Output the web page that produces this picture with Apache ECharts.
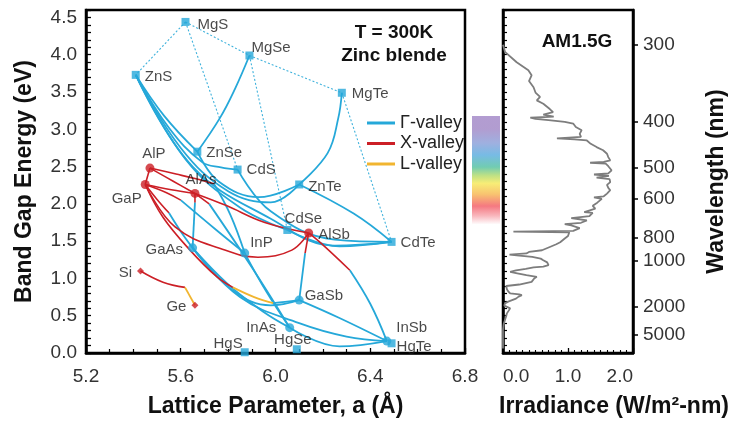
<!DOCTYPE html>
<html>
<head>
<meta charset="utf-8">
<script src="https://cdn.jsdelivr.net/npm/echarts@6/dist/echarts.min.js"></script>
<style>
  html, body { margin: 0; padding: 0; background: #fff; }
  #chart { width: 738px; height: 424px; }
</style>
</head>
<body>
<div id="chart"></div>
<script>
// Binary semiconductors (zinc blende, 300 K): lattice parameter in Å, band gap in eV
const compoundNames = ['MgS', 'MgSe', 'ZnS', 'MgTe', 'ZnSe', 'CdS', 'ZnTe', 'AlP', 'GaP', 'AlAs', 'CdSe', 'AlSb',
                       'CdTe', 'GaAs', 'InP', 'Si', 'Ge', 'GaSb', 'InAs', 'InSb', 'HgTe', 'HgS', 'HgSe'];
const latticeA = [5.62, 5.89, 5.41, 6.28, 5.67, 5.84, 6.10, 5.47, 5.45, 5.66, 6.05, 6.14,
                  6.49, 5.65, 5.87, 5.43, 5.66, 6.10, 6.06, 6.47, 6.49, 5.87, 6.09];
const bandGap = [4.44, 3.99, 3.73, 3.49, 2.70, 2.46, 2.26, 2.48, 2.26, 2.14, 1.65, 1.61,
                 1.49, 1.41, 1.34, 1.10, 0.64, 0.71, 0.34, 0.16, 0.13, 0.01, 0.05];
// marker family: II-VI (square), III-V direct (circle), III-V indirect (red circle), group IV (red diamond)
const compoundFamily = ['II-VI', 'II-VI', 'II-VI', 'II-VI', 'II-VI', 'II-VI', 'II-VI', 'indirect', 'indirect', 'indirect', 'II-VI', 'indirect',
                        'II-VI', 'III-V', 'III-V', 'IV', 'IV', 'III-V', 'III-V', 'III-V', 'II-VI', 'II-VI', 'II-VI'];

// Alloy curves; a string refers to a binary endpoint above, pairs are [a, Eg] along the curve
const gammaCurves = [
  ['ZnS', [5.53, 3.18], 'ZnSe'],
  ['ZnS', [5.55, 3.02], [5.69, 2.56], [5.77, 2.49], 'CdS'],
  ['ZnS', [5.60, 2.75], [5.80, 2.17], [5.98, 2.02], 'ZnTe'],
  ['ZnSe', [5.76, 2.30], [5.93, 2.09], 'ZnTe'],
  ['ZnS', [5.62, 2.60], [5.85, 1.95], 'CdSe'],
  ['ZnS', [5.65, 2.50], [5.98, 1.80], [6.25, 1.44], 'CdTe'],
  ['CdS', [5.98, 1.90], [6.25, 1.52], 'CdTe'],
  ['CdSe', [6.27, 1.43], 'CdTe'],
  ['ZnTe', [6.33, 1.87], 'CdTe'],
  ['MgSe', [5.83, 3.55], [5.765, 3.15], 'ZnSe'],
  ['MgTe', [6.265, 3.15], [6.22, 2.68], 'ZnTe'],
  [[5.74, 2.27], [5.81, 1.85], 'InP'],
  [[5.60, 2.05], [5.75, 1.65], 'InP'],
  [[5.66, 2.02], 'GaAs'],
  [[5.55, 1.88], [5.60, 1.63], 'GaAs'],
  [[5.72, 2.00], [5.90, 1.15], 'InAs'],
  ['InP', [5.96, 0.83], 'InAs'],
  ['GaAs', [5.80, 0.92], [5.95, 0.55], 'InAs'],
  ['GaAs', [5.82, 0.84], [5.98, 0.64], 'GaSb'],
  ['GaAs', [5.85, 0.75], [6.10, 0.40], [6.30, 0.22], 'InSb'],
  [[6.125, 1.34], 'GaSb'],
  [[6.314, 1.11], [6.40, 0.66], 'InSb'],
  ['GaSb', [6.27, 0.47], 'InSb'],
  ['InAs', [6.27, 0.09], 'InSb'],
  [[5.99, 0.67], [6.04, 0.685], 'GaSb']
];
const xValleyCurves = [
  ['AlP', 'GaP'],
  ['AlP', [5.57, 2.30], 'AlAs'],
  ['GaP', [5.56, 2.19], 'AlAs'],
  ['AlAs', [5.79, 1.98], [5.955, 1.75], 'AlSb'],
  ['GaP', [5.576, 1.69], [5.786, 1.38], [5.926, 1.285], [6.069, 1.38], 'AlSb'],
  ['AlP', [5.58, 2.40], [5.66, 2.34], [5.74, 2.27]],
  ['GaP', [5.54, 2.15], [5.60, 2.05]],
  ['AlAs', [5.66, 2.02]],
  ['GaP', [5.50, 2.06], [5.55, 1.88]],
  ['AlAs', [5.72, 2.00]],
  ['GaP', [5.525, 1.82], [5.639, 1.38], [5.753, 1.02], [5.82, 0.88]],
  ['AlSb', [6.125, 1.34]],
  ['AlSb', [6.20, 1.45], [6.314, 1.11]],
  ['Si', [5.525, 0.95], [5.618, 0.88]]
];
const lValleyCurves = [
  [[5.82, 0.88], [5.91, 0.75], [5.99, 0.67]],
  [[5.618, 0.88], 'Ge']
];
// Mg-chalcogenide tie lines (dotted)
const mgTieLines = [['MgS', 'ZnS'], ['MgS', 'MgSe'], ['MgS', 'CdS'], ['MgSe', 'MgTe'], ['MgSe', 'CdSe'], ['MgTe', 'CdTe']];

// AM1.5G solar spectrum: [wavelength nm, irradiance W/m^2-nm]
const spectrumPoints = [
  [300, 0], [307, 0.03], [318, 0.21], [327, 0.39], [333, 0.44], [340, 0.40], [348, 0.47], [355, 0.50],
  [361, 0.57], [366, 0.52], [371, 0.62], [379, 0.72], [384, 0.77], [388, 0.62], [391, 0.78], [393, 0.42],
  [395, 0.50], [397, 0.70], [400, 0.95], [403, 1.08], [409, 1.12], [415, 1.21], [422, 1.18], [428, 1.20],
  [431, 0.83], [433, 1.10], [435, 1.29], [442, 1.35], [449, 1.44], [456, 1.54], [464, 1.60], [472, 1.62],
  [480, 1.65], [484, 1.55], [486, 1.34], [488, 1.58], [495, 1.62], [506, 1.67], [515, 1.62], [518, 1.40],
  [522, 1.63], [527, 1.44], [532, 1.64], [541, 1.65], [550, 1.60], [560, 1.62], [568, 1.65], [580, 1.60],
  [590, 1.55], [594, 1.40], [600, 1.52], [605, 1.49], [615, 1.45], [628, 1.38], [640, 1.42], [648, 1.39],
  [656, 1.25], [660, 1.38], [675, 1.33], [686, 1.05], [690, 1.15], [697, 1.29], [710, 1.20], [718, 0.95],
  [725, 1.05], [740, 1.18], [757, 1.08], [762, 0.16], [766, 1.02], [774, 1.03], [790, 1.00], [808, 0.95],
  [821, 0.93], [835, 0.88], [850, 0.82], [872, 0.72], [900, 0.60], [915, 0.40], [929, 0.36], [940, 0.10],
  [950, 0.25], [962, 0.45], [980, 0.58], [996, 0.62], [1020, 0.68], [1051, 0.70], [1070, 0.62], [1081, 0.47],
  [1100, 0.35], [1120, 0.20], [1140, 0.11], [1160, 0.22], [1188, 0.36], [1214, 0.52], [1240, 0.48], [1270, 0.45],
  [1300, 0.44], [1329, 0.42], [1350, 0.25], [1380, 0.05], [1397, 0.06], [1420, 0.02], [1450, 0.06], [1500, 0.08],
  [1551, 0.11], [1580, 0.25], [1597, 0.29], [1640, 0.24], [1700, 0.20], [1748, 0.18], [1800, 0.08], [1864, 0.03],
  [1950, 0.02], [2072, 0.11], [2150, 0.09], [2333, 0.06], [2500, 0.05], [2806, 0.03], [3200, 0.01], [4000, 0],
  [8000, 0], [20000, 0]
];
const wavelengthTicks = [300, 400, 500, 600, 800, 1000, 2000, 5000];
const visibleBand = [390, 720]; // nm
const HC = 1240; // eV·nm, photon energy <-> wavelength

// ---- styling / layout ----
const FONT = '"Liberation Sans", Arial, Helvetica, sans-serif';
const BLUE = '#25a8d9';
const RED = '#cc1f26';
const GOLD = '#f1b530';
const labelLayout = {
  MgS: ['right', [3, 3]], MgSe: ['right', [-7, -8]], ZnS: ['right', [0, 2]], MgTe: ['right', [1, 1]],
  ZnSe: ['right', [0, 1]], CdS: ['right', [0, 0]], ZnTe: ['right', [0, 2]], AlP: ['top', [4, 3]],
  GaP: ['left', [6, 14]], AlAs: ['top', [6, 3]], CdSe: ['top', [16, 5]], AlSb: ['right', [0, 2]],
  CdTe: ['right', [0, 1]], GaAs: ['left', [0, 2]], InP: ['right', [-4, -10]], Si: ['left', [0, 2]],
  Ge: ['left', [0, 2]], GaSb: ['right', [-4, -4]], InAs: ['left', [-4, 0]], InSb: ['right', [0, -13]],
  HgTe: ['right', [-4, 4]], HgS: ['left', [7, -8]], HgSe: ['top', [-4, 7]]
};
const familyStyle = {
  'II-VI':    { symbol: 'rect', size: 8, color: BLUE },
  'III-V':    { symbol: 'circle', size: 9, color: BLUE },
  'indirect': { symbol: 'circle', size: 9, color: RED },
  'IV':       { symbol: 'diamond', size: 7, color: RED }
};

function resolvePoint(p) {
  if (typeof p === 'string') {
    const i = compoundNames.indexOf(p);
    return [latticeA[i], bandGap[i]];
  }
  return p;
}

const series = [];

// dotted Mg tie lines
mgTieLines.forEach(pair => {
  series.push({
    type: 'line', name: 'Mg tie line', xAxisIndex: 0, yAxisIndex: 0,
    data: pair.map(resolvePoint), symbol: 'none', silent: true, z: 1,
    lineStyle: { color: '#3fb2dc', width: 1.1, type: [2, 2] }
  });
});

function addCurves(list, name, color, width, z) {
  list.forEach(curve => {
    series.push({
      type: 'line', name, xAxisIndex: 0, yAxisIndex: 0,
      data: curve.map(resolvePoint), smooth: 0.4, symbol: 'none', silent: true, z,
      lineStyle: { color, width }, itemStyle: { color }
    });
  });
}
addCurves(gammaCurves, 'Γ-valley', BLUE, 1.8, 2);
addCurves(xValleyCurves, 'X-valley', RED, 1.6, 3);
addCurves(lValleyCurves, 'L-valley', GOLD, 1.8, 3);

// compound markers with labels
Object.keys(familyStyle).forEach(fam => {
  const st = familyStyle[fam];
  const data = [];
  compoundNames.forEach((n, i) => {
    if (compoundFamily[i] !== fam) return;
    const lay = labelLayout[n];
    data.push({ name: n, value: [latticeA[i], bandGap[i]], label: { position: lay[0], offset: lay[1] } });
  });
  series.push({
    type: 'scatter', xAxisIndex: 0, yAxisIndex: 0, symbol: st.symbol, symbolSize: st.size,
    itemStyle: { color: st.color }, z: 5, silent: true, data,
    label: { show: true, formatter: '{b}', fontSize: 15, fontFamily: FONT, color: '#1a1a1a', distance: 5 }
  });
});

// solar spectrum plotted against photon energy
series.push({
  type: 'line', name: 'AM1.5G', xAxisIndex: 1, yAxisIndex: 1, symbol: 'none', silent: true,
  data: spectrumPoints.map(p => [p[1], HC / p[0]]),
  lineStyle: { color: '#7d7d7d', width: 1.8 }
});

// visible colour band beside the spectrum
series.push({
  type: 'custom', xAxisIndex: 2, yAxisIndex: 3, silent: true, clip: false,
  data: [[HC / visibleBand[0], HC / visibleBand[1]]],
  renderItem: (params, api) => {
    const p0 = api.coord([0, api.value(0)]);
    const p1 = api.coord([1, api.value(1)]);
    return {
      type: 'rect',
      shape: { x: p0[0], y: p0[1], width: p1[0] - p0[0], height: p1[1] - p0[1] },
      style: {
        opacity: 0.85,
        fill: new echarts.graphic.LinearGradient(0, 0, 0, 1, [
          { offset: 0.00, color: '#a58bc9' },
          { offset: 0.12, color: '#a48bc8' },
          { offset: 0.25, color: '#8ea2da' },
          { offset: 0.36, color: '#5fafe0' },
          { offset: 0.47, color: '#58c3a4' },
          { offset: 0.55, color: '#b5dc6e' },
          { offset: 0.62, color: '#f6ea5e' },
          { offset: 0.72, color: '#f7b957' },
          { offset: 0.83, color: '#f3616b' },
          { offset: 0.92, color: '#f8abb2' },
          { offset: 1.00, color: '#ffffff' }
        ])
      }
    };
  }
});

const tickLabel = { fontSize: 19, color: '#333', fontFamily: FONT };
const titleStyle = { fontSize: 23, fontWeight: 'bold', color: '#111', fontFamily: FONT };
const axisLineStyle = { show: true, lineStyle: { color: '#000', width: 2.5 } };
const inTick = { show: true, inside: true, length: 5, lineStyle: { color: '#000', width: 1.3 } };

const option = {
  animation: false,
  backgroundColor: '#fff',
  grid: [
    { left: 86, top: 10, width: 379, height: 343, show: true, borderColor: '#000', borderWidth: 2.5, backgroundColor: 'transparent' },
    { left: 503, top: 10, width: 130, height: 343, show: true, borderColor: '#000', borderWidth: 2.5, backgroundColor: 'transparent' },
    { left: 472, top: 10, width: 28, height: 343 }
  ],
  xAxis: [
    {
      gridIndex: 0, type: 'value', min: 5.2, max: 6.8, interval: 0.4,
      axisLine: axisLineStyle, axisTick: inTick,
      minorTick: { show: true, splitNumber: 4, length: 4, lineStyle: { color: '#000', width: 1.2 } },
      splitLine: { show: false },
      axisLabel: Object.assign({ margin: 14, formatter: v => v.toFixed(1) }, tickLabel),
      name: 'Lattice Parameter, a (Å)', nameLocation: 'middle', nameGap: 42, nameTextStyle: titleStyle
    },
    {
      gridIndex: 1, type: 'value', min: 0, max: 2, interval: 1,
      axisLine: axisLineStyle, axisTick: inTick,
      minorTick: { show: true, splitNumber: 10, length: 3, lineStyle: { color: '#000', width: 1.1 } },
      splitLine: { show: false },
      axisLabel: Object.assign({ margin: 14, formatter: v => v.toFixed(1), alignMinLabel: 'left', alignMaxLabel: 'right' }, tickLabel),
      name: 'Irradiance (W/m²-nm)', nameLocation: 'middle', nameGap: 42,
      nameTextStyle: Object.assign({ padding: [0, 0, 0, 92] }, titleStyle)
    },
    { gridIndex: 2, type: 'value', min: 0, max: 1, show: false }
  ],
  yAxis: [
    {
      gridIndex: 0, type: 'value', min: 0, max: 4.6, interval: 0.1,
      axisLine: axisLineStyle, axisTick: inTick, splitLine: { show: false },
      axisLabel: Object.assign({ margin: 9, formatter: v => (Math.round(v * 10) % 5 === 0 ? v.toFixed(1) : '') }, tickLabel),
      name: 'Band Gap Energy (eV)', nameLocation: 'middle', nameGap: 50, nameRotate: 90, nameTextStyle: titleStyle
    },
    {
      gridIndex: 1, type: 'value', min: 0, max: 4.6, interval: 0.1,
      axisLine: axisLineStyle, axisTick: { show: true, inside: true, length: 4, lineStyle: { color: '#000', width: 1.2 } },
      splitLine: { show: false }, axisLabel: { show: false }
    },
    {
      gridIndex: 1, type: 'value', position: 'right', min: 0, max: 4.6,
      axisLine: axisLineStyle,
      axisTick: { show: true, inside: false, length: 5, customValues: wavelengthTicks.map(l => HC / l), lineStyle: { color: '#000', width: 1.5 } },
      splitLine: { show: false },
      axisLabel: Object.assign({ margin: 10, customValues: wavelengthTicks.map(l => HC / l), formatter: v => String(Math.round(HC / v)) }, tickLabel),
      name: 'Wavelength (nm)', nameLocation: 'middle', nameGap: 72, nameRotate: 90, nameTextStyle: titleStyle
    },
    { gridIndex: 2, type: 'value', min: 0, max: 4.6, show: false }
  ],
  legend: {
    data: ['Γ-valley', 'X-valley', 'L-valley'],
    orient: 'vertical', left: 362, top: 109, icon: 'rect', itemWidth: 28, itemHeight: 3, itemGap: 2.5,
    selectedMode: false,
    textStyle: { fontSize: 18, color: '#222', fontFamily: FONT, lineHeight: 18 }
  },
  graphic: [
    { type: 'text', x: 394, y: 33, style: { text: 'T = 300K', font: 'bold 19px ' + FONT, fill: '#111', textAlign: 'center', textVerticalAlign: 'middle', align: 'center', verticalAlign: 'middle' } },
    { type: 'text', x: 394, y: 56, style: { text: 'Zinc blende', font: 'bold 19px ' + FONT, fill: '#111', textAlign: 'center', textVerticalAlign: 'middle', align: 'center', verticalAlign: 'middle' } },
    { type: 'text', x: 577, y: 42, style: { text: 'AM1.5G', font: 'bold 19px ' + FONT, fill: '#111', textAlign: 'center', textVerticalAlign: 'middle', align: 'center', verticalAlign: 'middle' } }
  ],
  series
};

const chart = echarts.init(document.getElementById('chart'), null, { renderer: 'canvas' });
chart.setOption(option);
</script>
</body>
</html>
